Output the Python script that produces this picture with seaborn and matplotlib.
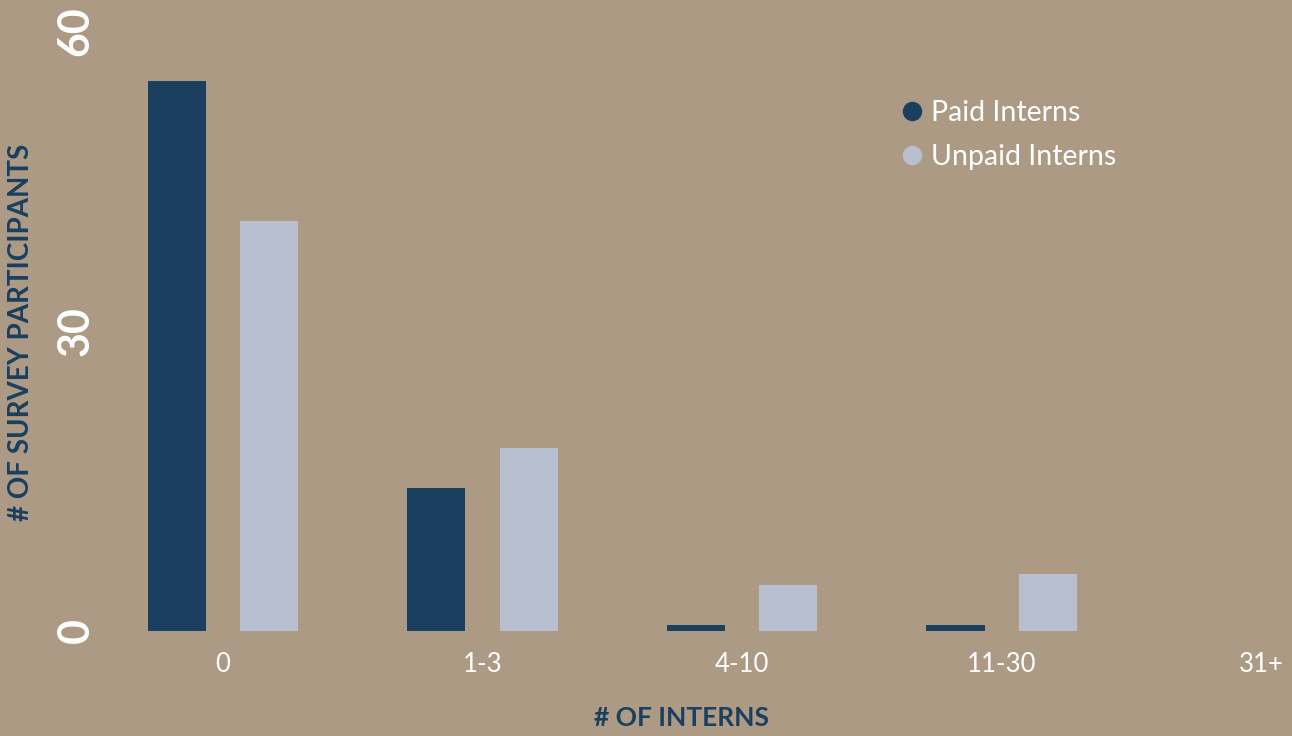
import matplotlib
matplotlib.use("Agg")
import matplotlib.pyplot as plt
from matplotlib.lines import Line2D
import seaborn as sns
import pandas as pd

# Survey: how many interns each participant's organisation takes on
categories = ["0", "1-3", "4-10", "11-30", "31+"]
paid_interns = [55, 14.3, 0.6, 0.6, 0]
unpaid_interns = [41, 18.3, 4.6, 5.7, 0]
series_names = ["Paid Interns", "Unpaid Interns"]
y_ticks = [0, 30, 60]

BG = "#AD9A85"
NAVY = "#1A3F5F"
LIGHT = "#B8BFCE"
WHITE = "#FFFFFF"

df = pd.DataFrame({
    "category": categories * 2,
    "count": paid_interns + unpaid_interns,
    "series": [series_names[0]] * len(categories) + [series_names[1]] * len(categories),
})

sns.set_theme(style="white")
plt.rcParams["font.family"] = ["Lato", "DejaVu Sans"]

W, H = 1292, 736
fig = plt.figure(figsize=(W / 100, H / 100), dpi=100, facecolor=BG)
ax = fig.add_axes([129 / W, (H - 630.7) / H, 1 - 129 / W, 600 / H])
ax.set_facecolor(BG)

sns.barplot(
    data=df, x="category", y="count", hue="series", order=categories,
    hue_order=series_names, palette=[NAVY, LIGHT], width=0.71, gap=0.37,
    saturation=1, ax=ax, legend=False, linewidth=0,
)

ax.set_xlim(-0.362, 4.119)
ax.set_ylim(0, 60)
for s in ax.spines.values():
    s.set_visible(False)

ax.set_yticks(y_ticks)
ax.set_yticklabels([str(t) for t in y_ticks], rotation=90, va="center",
                   fontsize=31, fontweight="bold", color=WHITE)
ax.tick_params(axis="y", length=0, pad=24)
ax.tick_params(axis="x", length=0, pad=15, labelsize=18.5, labelcolor=WHITE)
ax.set_xlabel("")
ax.set_ylabel("")

fig.text(21 / W, 1 - 332 / H, "# OF SURVEY PARTICIPANTS", rotation=90,
         ha="center", va="center", fontsize=20, fontweight="bold", color=NAVY)
fig.text(682 / W, 1 - 718 / H, "# OF INTERNS", ha="center", va="center",
         fontsize=19, fontweight="bold", color=NAVY)

handles = [Line2D([], [], marker="o", linestyle="", markersize=14,
                  markerfacecolor=c, markeredgewidth=0) for c in (NAVY, LIGHT)]
leg = fig.legend(handles, series_names, loc="upper left",
                 bbox_to_anchor=(884 / W, 1 - 89 / H), frameon=False,
                 fontsize=20.5, labelcolor=WHITE, handletextpad=0.05,
                 handlelength=1.2, labelspacing=0.62, borderaxespad=0)

fig.savefig("out.png", dpi=100, facecolor=BG)
